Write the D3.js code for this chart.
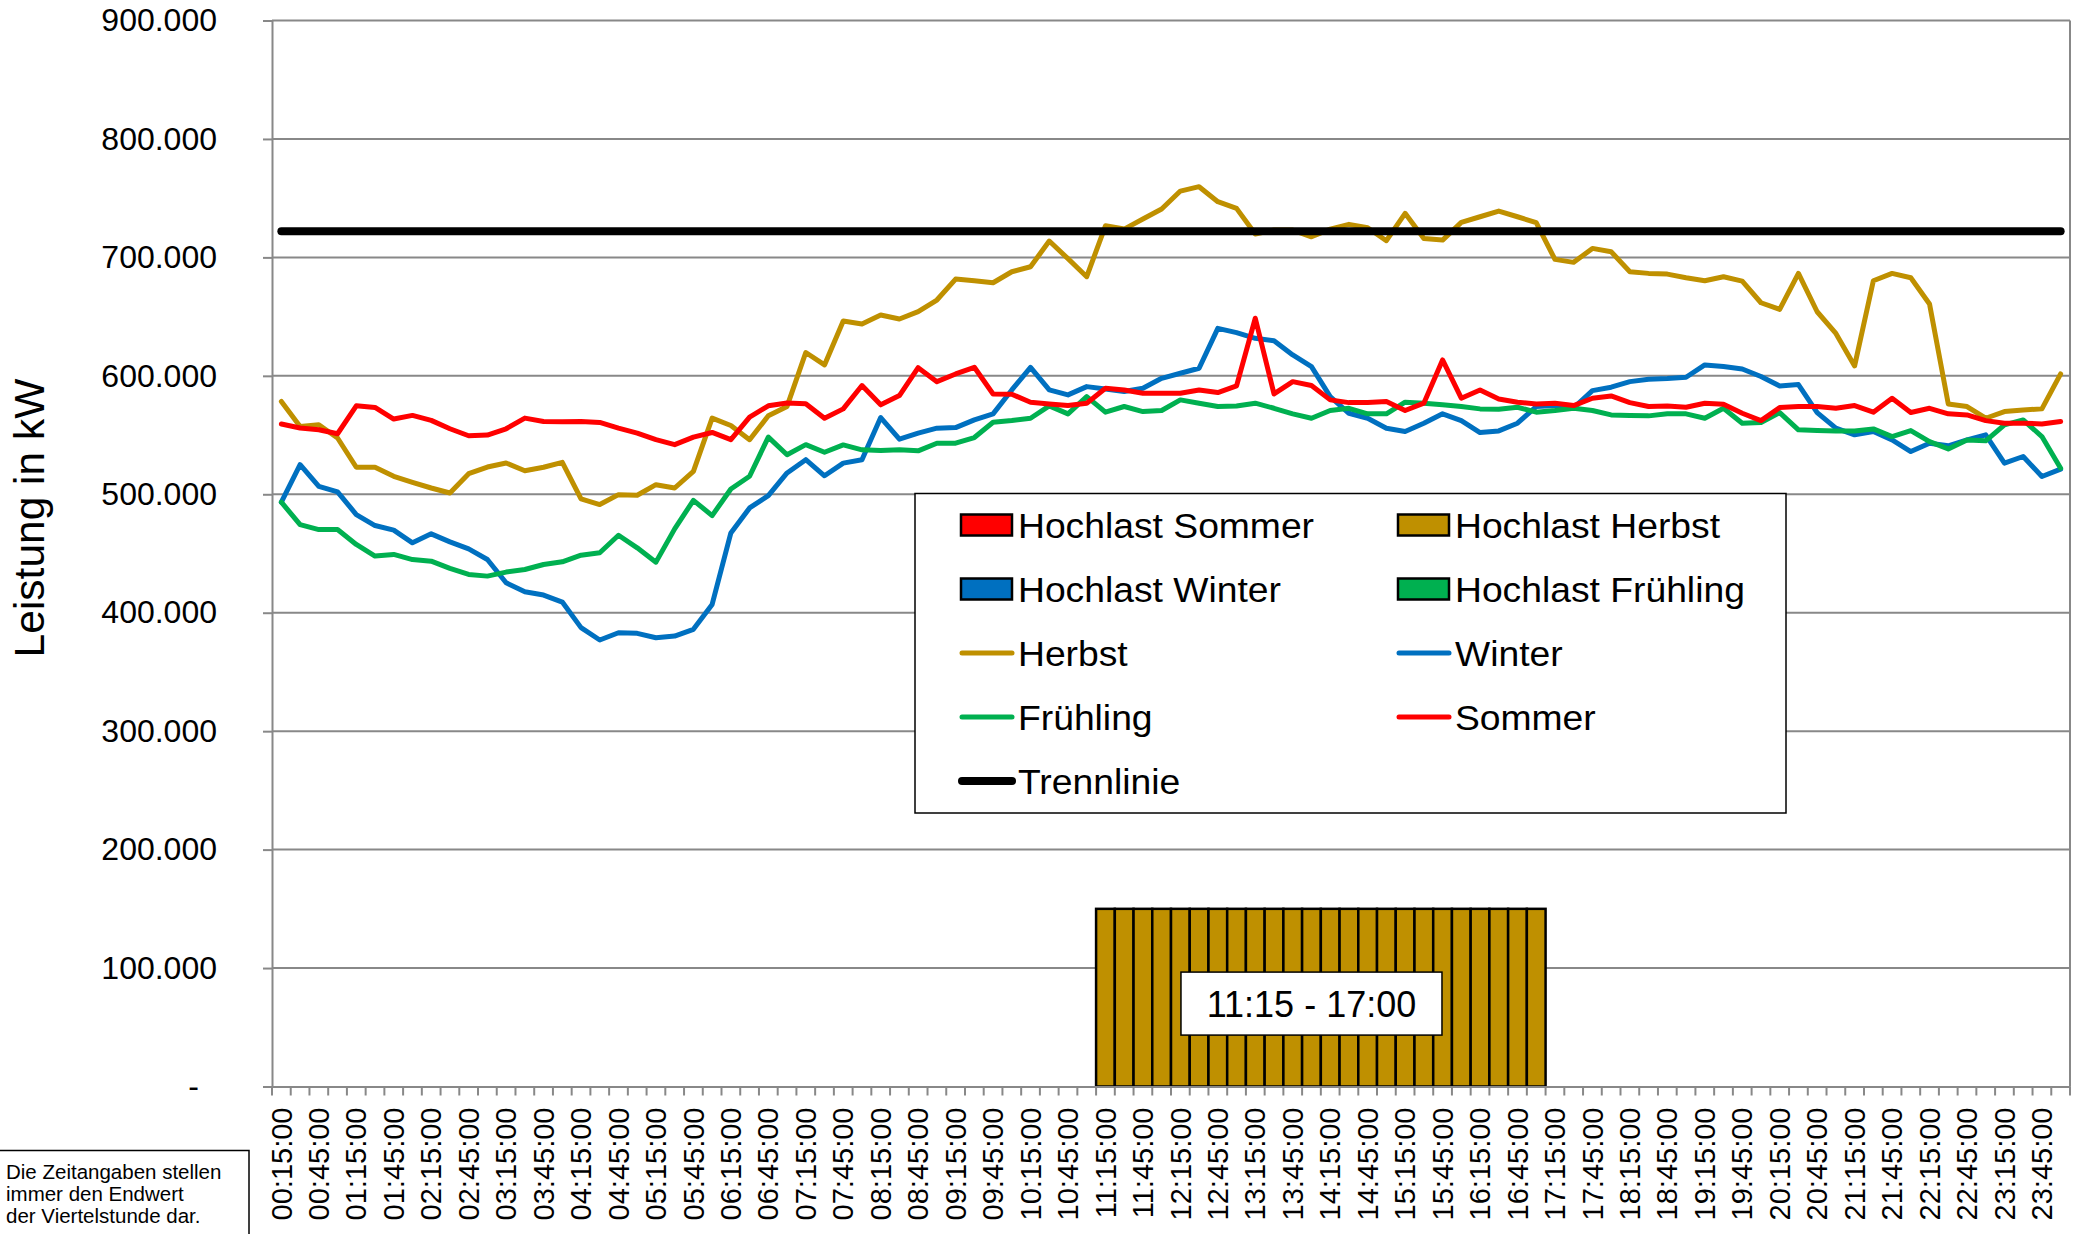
<!DOCTYPE html>
<html>
<head>
<meta charset="utf-8">
<script src="https://cdn.jsdelivr.net/npm/d3@7"></script>
<style>
body { margin: 0; background: #fff; }
svg { display: block; font-family: "Liberation Sans", Arial, sans-serif; }
</style>
</head>
<body>
<svg id="myChart" width="2079" height="1234"></svg>
<script>
// quarter hours, each label is the end of the quarter (00:15:00 ... 24:00)
let times = d3.range(96).map(i => {
	let m = ((i + 1) * 15) % 1440;
	return d3.format('02')(Math.floor(m / 60)) + ':' + d3.format('02')(m % 60) + ':00';
});

let yTicks = [0, 100000, 200000, 300000, 400000, 500000, 600000, 700000, 800000, 900000];

let herbst = [578400, 557300, 558700, 547500, 522800, 522800, 515200, 510100, 505300, 501100,
	517400, 523000, 526400, 519900, 522800, 527000, 496100, 491300, 499700, 499200,
	508100, 505300, 519400, 564300, 558100, 546100, 566300, 574200, 619700, 609200,
	646300, 643800, 651400, 648000, 654200, 664000, 681700, 680300, 678600, 687900,
	692100, 713800, 698900, 683700, 726700, 723900, 732400, 740800, 756000, 759700,
	747000, 741400, 719700, 723100, 723100, 717400, 723900, 727900, 725000, 714100,
	737200, 716000, 714600, 729600, 734300, 739100, 734300, 729300, 698300, 695800,
	707600, 704800, 687900, 686500, 685900, 682800, 680300, 683700, 680000, 661700,
	656100, 686500, 654100, 635800, 608400, 680300, 686500, 682800, 660600, 576300,
	574100, 564200, 569800, 571200, 572100, 601600];

let winter = [493300, 525000, 506700, 502000, 482900, 473600, 469700, 459000, 466600, 459800,
	453900, 444900, 425300, 417700, 414900, 409000, 387400, 377000, 383100, 382600,
	378900, 380300, 386000, 407000, 467400, 488500, 498900, 518000, 529200,
	515600, 526300, 529100, 564800, 546500, 551600, 555800, 556300, 562800, 567900,
	588100, 607200, 588100, 583900, 590900, 588900, 586700, 589500, 597900, 602200,
	606400, 640100, 636500, 631700, 629700, 617600, 607800, 582500, 568400, 564200,
	555800, 553000,
	560000, 567900, 562200, 552100, 553500, 560000, 574100, 574900, 573000, 587500,
	590400, 595100, 597100, 597700, 598800, 609200, 607800, 605800, 599400, 591500,
	592600, 569000, 555800, 550200, 553000, 545900, 536100, 543100, 540900, 545900,
	550200, 526300, 531900, 515000, 521200];

let fruehling = [493300, 474400, 470200, 470200, 457600, 447800, 449200, 444900, 443500, 437400,
	432300, 430900, 434300, 436500, 440700, 443000, 448600, 450600, 465400, 454800,
	442700, 470800, 494900, 482000, 504500, 515200, 548300, 533400, 541900,
	535500, 541700, 537500, 536900, 537500, 536700, 543100, 543100, 547900, 560800,
	562200, 564200, 574600, 567900, 582500, 569300, 574100, 569800, 570700, 579700,
	576900, 574100, 574600, 576900, 572600, 567900, 564200, 570700, 572600, 567900,
	567900, 577700,
	576900, 575500, 574100, 572100, 571800, 573500, 569300, 570700, 572600, 570700,
	567000, 566500, 566200, 567900, 567900, 564200, 572600, 560000, 560600, 569000,
	554400, 553800, 553500, 553500, 555200, 548700, 553800, 544500, 538300, 545900,
	545100, 558600, 562800, 548700, 522000];

let sommer = [559300, 555900, 554500, 551100, 574700, 573300, 563500, 566600, 562400, 555300,
	549400, 550000, 555300, 564300, 561500, 561200, 561500, 560700, 555900, 551700,
	546100, 541900, 548300, 552200, 546100, 565200, 574700, 577000, 576400,
	564200, 572100, 591800, 575500, 583300, 606900, 595100, 601600, 607200, 584700,
	584400, 577700, 576300, 574900, 576900, 589500, 588100, 585300, 585300, 585300,
	588100, 585900, 591500, 648600, 584700, 595100, 591800, 579700, 577400, 577400,
	578300, 570700, 576900, 613400,
	581100, 588100, 580500, 577700, 576300, 576900, 574900, 581100, 583000, 577400,
	574100, 574600, 573500, 576900, 576000, 568400, 562200, 573200, 574100, 574100,
	572600, 574900, 569300, 581100, 569000, 572600, 567900, 567000, 562200, 560000,
	560000, 559400, 561400];

let trennlinie = times.map(() => 722000);

// Hochlast window 11:15 - 17:00 (only the autumn series has bars)
let hochlastStart = '11:15:00';
let hochlastEnd = '17:00:00';
let hochlastValue = 150000;
let hochlastLabel = '11:15 - 17:00';

let colors = {
	sommer: '#FF0000',
	herbst: '#BF9000',
	winter: '#0070C0',
	fruehling: '#00B050',
	trenn: '#000000'
};

let svg = d3.select('#myChart');
svg.append('rect').attr('width', 2079).attr('height', 1234).attr('fill', '#fff');

let xScale = d3.scaleBand()
	.domain(times)
	.range([272, 2070])
	.padding(0);

let yScale = d3.scaleLinear()
	.domain([0, 900000])
	.range([1086.5, 20.5]);

let bw = xScale.bandwidth();
let cx = d => xScale(d) + bw / 2;

let deLocale = d3.formatLocale({ decimal: ',', thousands: '.', grouping: [3], currency: ['', ''] });
let fmt = deLocale.format(',.0f');

// gridlines
svg.append('g')
	.selectAll('line')
	.data(yTicks.slice(1))
	.enter()
	.append('line')
		.attr('x1', 272)
		.attr('x2', 2070)
		.attr('y1', d => yScale(d))
		.attr('y2', d => yScale(d))
		.attr('stroke', '#888')
		.attr('stroke-width', 2);

// right border of plot area
svg.append('line')
	.attr('x1', 2070).attr('x2', 2070)
	.attr('y1', yScale(900000)).attr('y2', yScale(0))
	.attr('stroke', '#888').attr('stroke-width', 2);

// y axis
let yAxis = svg.append('g')
	.attr('transform', 'translate(272, 0)')
	.call(d3.axisLeft(yScale)
		.tickValues(yTicks)
		.tickSize(9)
		.tickPadding(46)
		.tickFormat(d => d === 0 ? '-' : fmt(d)));
yAxis.select('.domain').attr('stroke', '#888').attr('stroke-width', 2);
yAxis.selectAll('.tick line').attr('stroke', '#888').attr('stroke-width', 2);
yAxis.selectAll('.tick text')
	.attr('font-size', 32)
	.attr('font-family', '"Liberation Sans", Arial, sans-serif')
	.attr('fill', '#000')
	.attr('dx', d => d === 0 ? -18 : 0);

svg.append('text')
	.attr('transform', 'translate(44, 518) rotate(-90)')
	.attr('text-anchor', 'middle')
	.attr('font-size', 42.5)
	.text('Leistung in kW');

// hochlast bars
let barData = times.filter(t => t >= hochlastStart && t <= hochlastEnd);
svg.append('g')
	.selectAll('rect')
	.data(barData)
	.enter()
	.append('rect')
		.attr('x', d => xScale(d))
		.attr('y', yScale(hochlastValue))
		.attr('width', bw)
		.attr('height', yScale(0) - yScale(hochlastValue))
		.attr('fill', colors.herbst)
		.attr('stroke', '#000')
		.attr('stroke-width', 2.5);

// x axis
let xAxis = svg.append('g')
	.attr('transform', 'translate(0, ' + yScale(0) + ')')
	.call(d3.axisBottom(xScale)
		.tickValues(times.filter((d, i) => i % 2 === 0))
		.tickSize(0)
		.tickPadding(0));
xAxis.select('.domain').attr('stroke', '#888').attr('stroke-width', 2);
xAxis.selectAll('.tick text')
	.attr('font-size', 29)
	.attr('font-family', '"Liberation Sans", Arial, sans-serif')
	.attr('fill', '#000')
	.attr('transform', 'rotate(-90)')
	.attr('text-anchor', 'end')
	.attr('x', -21)
	.attr('y', 0)
	.attr('dy', '0.35em');

// tick marks between the categories
xAxis.append('g')
	.selectAll('line')
	.data(times.concat(['end']))
	.enter()
	.append('line')
		.attr('x1', d => d === 'end' ? 2070 : xScale(d))
		.attr('x2', d => d === 'end' ? 2070 : xScale(d))
		.attr('y1', 0)
		.attr('y2', 9)
		.attr('stroke', '#888')
		.attr('stroke-width', 2);

// label box in the hochlast window
let boxCx = cx('14:00:00');
let boxCy = yScale(70000);
svg.append('rect')
	.attr('x', boxCx - 130.5)
	.attr('y', boxCy - 31.5)
	.attr('width', 261)
	.attr('height', 63)
	.attr('fill', '#fff')
	.attr('stroke', '#000')
	.attr('stroke-width', 1.5);
svg.append('text')
	.attr('x', boxCx)
	.attr('y', boxCy + 13)
	.attr('text-anchor', 'middle')
	.attr('font-size', 36)
	.text(hochlastLabel);

// lines
let line = d3.line()
	.x((d, i) => cx(times[i]))
	.y(d => yScale(d));

let series = [
	{ values: herbst, color: colors.herbst, width: 5 },
	{ values: winter, color: colors.winter, width: 5 },
	{ values: fruehling, color: colors.fruehling, width: 5 },
	{ values: sommer, color: colors.sommer, width: 5 },
	{ values: trennlinie, color: colors.trenn, width: 8 }
];

svg.append('g')
	.selectAll('path')
	.data(series)
	.enter()
	.append('path')
		.attr('d', d => line(d.values))
		.attr('fill', 'none')
		.attr('stroke', d => d.color)
		.attr('stroke-width', d => d.width)
		.attr('stroke-linejoin', 'round')
		.attr('stroke-linecap', 'round');

// legend
let legendItems = [
	{ name: 'Hochlast Sommer', color: colors.sommer, type: 'box' },
	{ name: 'Hochlast Herbst', color: colors.herbst, type: 'box' },
	{ name: 'Hochlast Winter', color: colors.winter, type: 'box' },
	{ name: 'Hochlast Frühling', color: colors.fruehling, type: 'box' },
	{ name: 'Herbst', color: colors.herbst, type: 'line', width: 5 },
	{ name: 'Winter', color: colors.winter, type: 'line', width: 5 },
	{ name: 'Frühling', color: colors.fruehling, type: 'line', width: 5 },
	{ name: 'Sommer', color: colors.sommer, type: 'line', width: 5 },
	{ name: 'Trennlinie', color: colors.trenn, type: 'line', width: 8 }
];

let legend = svg.append('g');
legend.append('rect')
	.attr('x', 915).attr('y', 493.5)
	.attr('width', 871).attr('height', 319.5)
	.attr('fill', '#fff')
	.attr('stroke', '#000')
	.attr('stroke-width', 1.5);

let colX = [960, 1397];
let rowY = [525, 589, 653, 717, 781];

let entry = legend.selectAll('g.item')
	.data(legendItems)
	.enter()
	.append('g')
		.attr('class', 'item')
		.attr('transform', (d, i) => 'translate(' + colX[i % 2] + ',' + rowY[Math.floor(i / 2)] + ')');

entry.filter(d => d.type === 'box')
	.append('rect')
		.attr('x', 1).attr('y', -10.5)
		.attr('width', 51).attr('height', 21)
		.attr('fill', d => d.color)
		.attr('stroke', '#000')
		.attr('stroke-width', 2.5);

entry.filter(d => d.type === 'line')
	.append('line')
		.attr('x1', 2).attr('x2', 52)
		.attr('y1', 0).attr('y2', 0)
		.attr('stroke', d => d.color)
		.attr('stroke-width', d => d.width)
		.attr('stroke-linecap', 'round');

// legend text is slightly stretched sideways in the original
entry.append('text')
	.attr('transform', 'translate(58, 12.5) scale(1.05, 1)')
	.attr('font-size', 35.5)
	.text(d => d.name);

// note in the lower left corner
let note = ['Die Zeitangaben stellen', 'immer den Endwert', 'der Viertelstunde dar.'];
svg.append('rect')
	.attr('x', -2).attr('y', 1150.5)
	.attr('width', 251).attr('height', 95)
	.attr('fill', '#fff')
	.attr('stroke', '#000')
	.attr('stroke-width', 1.5);
svg.append('g')
	.selectAll('text')
	.data(note)
	.enter()
	.append('text')
		.attr('x', 6)
		.attr('y', (d, i) => 1179 + i * 22)
		.attr('font-size', 20.5)
		.text(d => d);
</script>
</body>
</html>
